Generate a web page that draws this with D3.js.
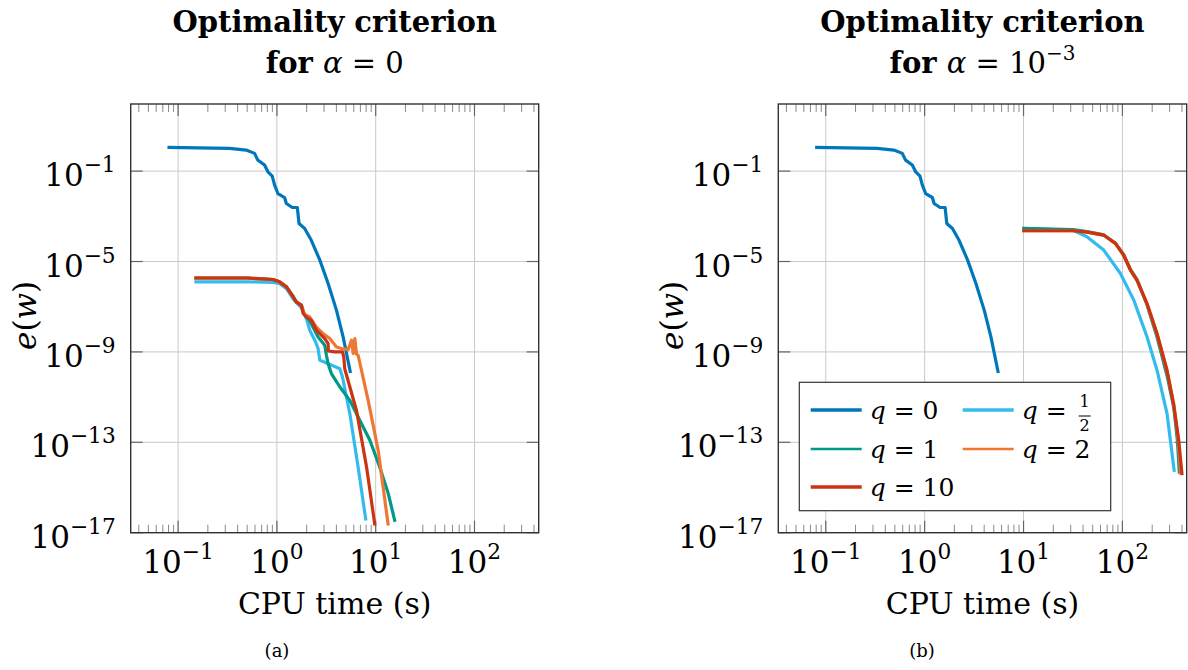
<!DOCTYPE html>
<html><head><meta charset="utf-8">
<script src="https://cdn.jsdelivr.net/npm/d3@7"></script>
<style>
body{margin:0;background:#fff}
svg{display:block}
text{font-family:"DejaVu Serif",serif;fill:#000}
</style></head><body>
<script>
// ---------- data (time in s, error e(w)) ----------
const xTickExps = [-1, 0, 1, 2];
const yTickExps = [-1, -5, -9, -13, -17];
const legendLabels = ["0", "1/2", "1", "2", "10"];
const seriesColors = ["#0077BB", "#33BBEE", "#009988", "#EE7733", "#CC3311"];

const q0 = [[0.078,1.12],[0.331,1.01],[0.489,0.85],[0.594,0.61],[0.641,0.307],[0.75,0.185],[0.811,0.093],[0.897,0.060],[0.948,0.024],[1.023,0.0102],[1.197,0.0068],[1.245,0.0037],[1.432,0.00245],[1.61,0.00245],[1.675,4.8e-4],[1.91,2.9e-4],[2.23,8.7e-5],[2.72,1.15e-5],[3.30,1.07e-6],[4.01,6.9e-8],[4.68,4.6e-9],[5.56,1.17e-10]];

const leftQ12 = [[0.146,1.26e-6],[0.50,1.26e-6],[0.91,1.2e-6],[1.06,1.07e-6],[1.25,6.3e-7],[1.46,2.2e-7],[1.77,8.9e-8],[2.0,2.8e-8],[2.15,9.1e-9],[2.42,3.3e-9],[2.61,1.41e-9],[2.72,4.3e-10],[3.05,3.5e-10],[4.34,1.8e-10],[4.61,7.8e-11],[5.47,1.86e-12],[6.64,7.9e-15],[7.96,3.5e-17]];
const leftQ1 = [[0.146,1.86e-6],[0.50,1.86e-6],[0.91,1.6e-6],[1.06,1.26e-6],[1.25,7.6e-7],[1.46,2.9e-7],[1.57,1.7e-7],[1.77,1.1e-7],[1.9,4.5e-8],[2.15,2.4e-8],[2.61,4.6e-9],[3.05,1.95e-9],[3.17,7.1e-10],[3.30,3.0e-10],[3.56,1.1e-10],[4.34,2.8e-11],[5.47,7.2e-12],[6.92,9.3e-13],[8.73,1.23e-13],[11.0,7.9e-15],[13.4,5.4e-16],[15.7,3.0e-17]];
const leftQ2 = [[0.146,1.86e-6],[0.50,1.86e-6],[0.91,1.6e-6],[1.06,1.26e-6],[1.25,7.6e-7],[1.46,2.7e-7],[1.57,1.6e-7],[1.77,1.2e-7],[1.9,4.5e-8],[2.15,3.5e-8],[2.51,1.26e-8],[2.93,6.5e-9],[3.43,3.9e-9],[4.01,1.66e-9],[4.51,1.41e-9],[5.26,1.26e-9],[5.69,3.3e-9],[5.92,8.5e-10],[6.15,3.9e-9],[6.40,7.9e-10],[6.64,7.1e-10],[8.39,7.2e-12],[10.6,4.4e-14],[13.4,2.1e-17]];
const leftQ10 = [[0.146,1.86e-6],[0.50,1.86e-6],[0.91,1.6e-6],[1.06,1.26e-6],[1.25,7.6e-7],[1.46,2.7e-7],[1.57,1.6e-7],[1.77,1.17e-7],[1.84,5.0e-8],[1.99,3.5e-8],[2.23,2.5e-8],[2.51,9.1e-9],[2.72,6.5e-9],[3.05,3.9e-9],[3.30,2.3e-9],[3.31,1.1e-9],[3.85,1.0e-9],[4.61,1.0e-9],[4.75,6.0e-10],[4.86,1.8e-10],[6.40,2.5e-12],[8.09,7.9e-15],[9.82,2.1e-17]];

const rightQ12 = [[9.7,2.9e-4],[31.6,2.4e-4],[44,1.23e-4],[64.7,3.2e-5],[95.5,2.95e-6],[130.3,1.95e-7],[177.4,4.6e-9],[223.9,1.55e-10],[282.5,1.86e-12],[335,4.9e-15]];
const rightQ1 = [[9.7,2.9e-4],[31.6,2.6e-4],[44,2.1e-4],[64.7,1.5e-4],[84.9,6.5e-5],[103,2.0e-5],[120.5,4.5e-6],[140.6,1.6e-6],[177.4,1.2e-7],[223.9,4.5e-9],[282.5,9e-11],[330.4,3.5e-12],[360,1.2e-13],[376.7,4.1e-15]];
const rightQ2 = [[9.7,2.3e-4],[31.6,2.3e-4],[44,2.0e-4],[64.7,1.48e-4],[84.9,6.3e-5],[103,1.9e-5],[120.5,4.2e-6],[140.6,1.48e-6],[177.4,1.3e-7],[223.9,6e-9],[282.5,1.4e-10],[330.4,5e-12],[365,1.6e-13],[389,3.7e-15]];
const rightQ10 = [[9.7,2.3e-4],[31.6,2.3e-4],[44,2.0e-4],[64.7,1.48e-4],[84.9,6.3e-5],[103,1.9e-5],[120.5,4.2e-6],[140.6,1.48e-6],[177.4,1.38e-7],[223.9,6.5e-9],[282.5,1.55e-10],[330.4,4.4e-12],[370.7,1.26e-13],[400.9,3.5e-15]];

const titlesLine1 = ["Optimality criterion", "Optimality criterion"];
const alphaBase = ["0", "10"];
const alphaExp = ["", "−3"];
const captions = ["(a)", "(b)"];

// ---------- drawing ----------
const W = 1188, H = 670;
const svg = d3.select("body").append("svg").attr("width", W).attr("height", H);

const panels = [
  {x0: 130.7, x1: 538.7, cap: 277, series: [q0, leftQ12, leftQ1, leftQ2, leftQ10]},
  {x0: 778.3, x1: 1186.7, cap: 922, series: [q0, rightQ12, rightQ1, rightQ2, rightQ10]}
];
const yTop = 104, yBot = 532.7;

function supText(sel, base, exp, fs) {
  sel.append("tspan").text(base);
  if (exp) sel.append("tspan").attr("dy", -0.45 * fs).attr("font-size", fs * 0.7).text(exp);
}

panels.forEach((p, pi) => {
  const x = d3.scaleLog().domain([Math.pow(10, -1.48), Math.pow(10, 2.65)]).range([p.x0, p.x1]);
  const y = d3.scaleLog().domain([1e-17, Math.pow(10, 1.97)]).range([yBot, yTop]);
  const g = svg.append("g");

  // grid
  xTickExps.forEach(e => {
    const xx = x(Math.pow(10, e));
    g.append("line").attr("x1", xx).attr("x2", xx).attr("y1", yTop).attr("y2", yBot)
      .attr("stroke", "#c9c9c9").attr("stroke-width", 1);
  });
  yTickExps.forEach(e => {
    const yy = y(Math.pow(10, e));
    g.append("line").attr("x1", p.x0).attr("x2", p.x1).attr("y1", yy).attr("y2", yy)
      .attr("stroke", "#c9c9c9").attr("stroke-width", 1);
  });

  // minor x ticks
  for (let k = -2; k <= 2; k++) {
    for (let m = 2; m <= 9; m++) {
      const v = m * Math.pow(10, k);
      if (v < x.domain()[0] || v > x.domain()[1]) continue;
      const xx = x(v);
      g.append("line").attr("x1", xx).attr("x2", xx).attr("y1", yBot).attr("y2", yBot - 8).attr("stroke", "#8a8a8a").attr("stroke-width", 1);
      g.append("line").attr("x1", xx).attr("x2", xx).attr("y1", yTop).attr("y2", yTop + 8).attr("stroke", "#8a8a8a").attr("stroke-width", 1);
    }
  }
  // major ticks
  xTickExps.forEach(e => {
    const xx = x(Math.pow(10, e));
    g.append("line").attr("x1", xx).attr("x2", xx).attr("y1", yBot).attr("y2", yBot - 12).attr("stroke", "#666").attr("stroke-width", 1.2);
    g.append("line").attr("x1", xx).attr("x2", xx).attr("y1", yTop).attr("y2", yTop + 12).attr("stroke", "#666").attr("stroke-width", 1.2);
  });
  yTickExps.forEach(e => {
    const yy = y(Math.pow(10, e));
    g.append("line").attr("x1", p.x0).attr("x2", p.x0 + 12).attr("y1", yy).attr("y2", yy).attr("stroke", "#666").attr("stroke-width", 1.2);
    g.append("line").attr("x1", p.x1).attr("x2", p.x1 - 12).attr("y1", yy).attr("y2", yy).attr("stroke", "#666").attr("stroke-width", 1.2);
  });

  // series
  const line = d3.line().x(d => x(d[0])).y(d => y(d[1]));
  p.series.forEach((s, si) => {
    g.append("path").datum(s).attr("d", line).attr("fill", "none")
      .attr("stroke", seriesColors[si]).attr("stroke-width", 3.2)
      .attr("stroke-linejoin", "round");
  });

  // frame
  g.append("rect").attr("x", p.x0).attr("y", yTop).attr("width", p.x1 - p.x0).attr("height", yBot - yTop)
    .attr("fill", "none").attr("stroke", "#333").attr("stroke-width", 1.4);

  // tick labels
  xTickExps.forEach(e => {
    const t = g.append("text").attr("x", x(Math.pow(10, e))).attr("y", 573)
      .attr("text-anchor", "middle").attr("font-size", 31);
    supText(t, "10", e < 0 ? "−" + (-e) : String(e), 31);
  });
  yTickExps.forEach(e => {
    const t = g.append("text").attr("x", p.x0 - 15).attr("y", y(Math.pow(10, e)) + 15)
      .attr("text-anchor", "end").attr("font-size", 31);
    supText(t, "10", "−" + (-e), 31);
  });

  // axis labels
  const cx = (p.x0 + p.x1) / 2;
  g.append("text").attr("x", cx).attr("y", 614).attr("text-anchor", "middle").attr("font-size", 30).text("CPU time (s)");
  const yl = g.append("text").attr("transform", `translate(${p.x0 - 95},${(yTop + yBot) / 2 - 3}) rotate(-90)`)
    .attr("text-anchor", "middle").attr("font-size", 31);
  yl.append("tspan").attr("font-style", "italic").text("e");
  yl.append("tspan").text("(");
  yl.append("tspan").attr("font-style", "italic").text("w");
  yl.append("tspan").text(")");

  // title
  g.append("text").attr("x", cx).attr("y", 32).attr("text-anchor", "middle")
    .attr("font-size", 29).attr("font-weight", "bold").text(titlesLine1[pi]);
  const t2 = g.append("text").attr("x", cx).attr("y", 73).attr("text-anchor", "middle").attr("font-size", 29);
  t2.append("tspan").attr("font-weight", "bold").text("for ");
  t2.append("tspan").attr("font-style", "italic").text("α");
  t2.append("tspan").text(" = " + alphaBase[pi]);
  if (alphaExp[pi]) t2.append("tspan").attr("dy", -13).attr("font-size", 20).text(alphaExp[pi]);

  // caption
  g.append("text").attr("x", p.cap).attr("y", 657).attr("text-anchor", "middle").attr("font-size", 18).text(captions[pi]);
});

// legend (right panel)
const lg = svg.append("g");
lg.append("rect").attr("x", 799.3).attr("y", 382.3).attr("width", 311.4).attr("height", 128.4)
  .attr("fill", "#fff").attr("stroke", "#333").attr("stroke-width", 1.2);
const legendPos = [[810.7, 410], [962.7, 410], [810.7, 449], [962.7, 449], [810.7, 487]];
const legendWidths = [3.5, 3.5, 2.4, 2.4, 3.5];
legendLabels.forEach((lab, i) => {
  const [lx, ly] = legendPos[i];
  lg.append("line").attr("x1", lx).attr("x2", lx + 51).attr("y1", ly).attr("y2", ly)
    .attr("stroke", seriesColors[i]).attr("stroke-width", legendWidths[i]);
  const t = lg.append("text").attr("x", lx + 59).attr("y", ly + 9).attr("font-size", 25);
  t.append("tspan").attr("font-style", "italic").text("q");
  if (lab.includes("/")) {
    t.append("tspan").text(" =");
    const [num, den] = lab.split("/");
    const fx = lx + 122;
    lg.append("text").attr("x", fx).attr("y", ly - 3).attr("text-anchor", "middle").attr("font-size", 16).text(num);
    lg.append("line").attr("x1", fx - 6).attr("x2", fx + 6).attr("y1", ly + 6).attr("y2", ly + 6).attr("stroke", "#000").attr("stroke-width", 1);
    lg.append("text").attr("x", fx).attr("y", ly + 21).attr("text-anchor", "middle").attr("font-size", 16).text(den);
  } else {
    t.append("tspan").text(" = " + lab);
  }
});
</script>
</body></html>
